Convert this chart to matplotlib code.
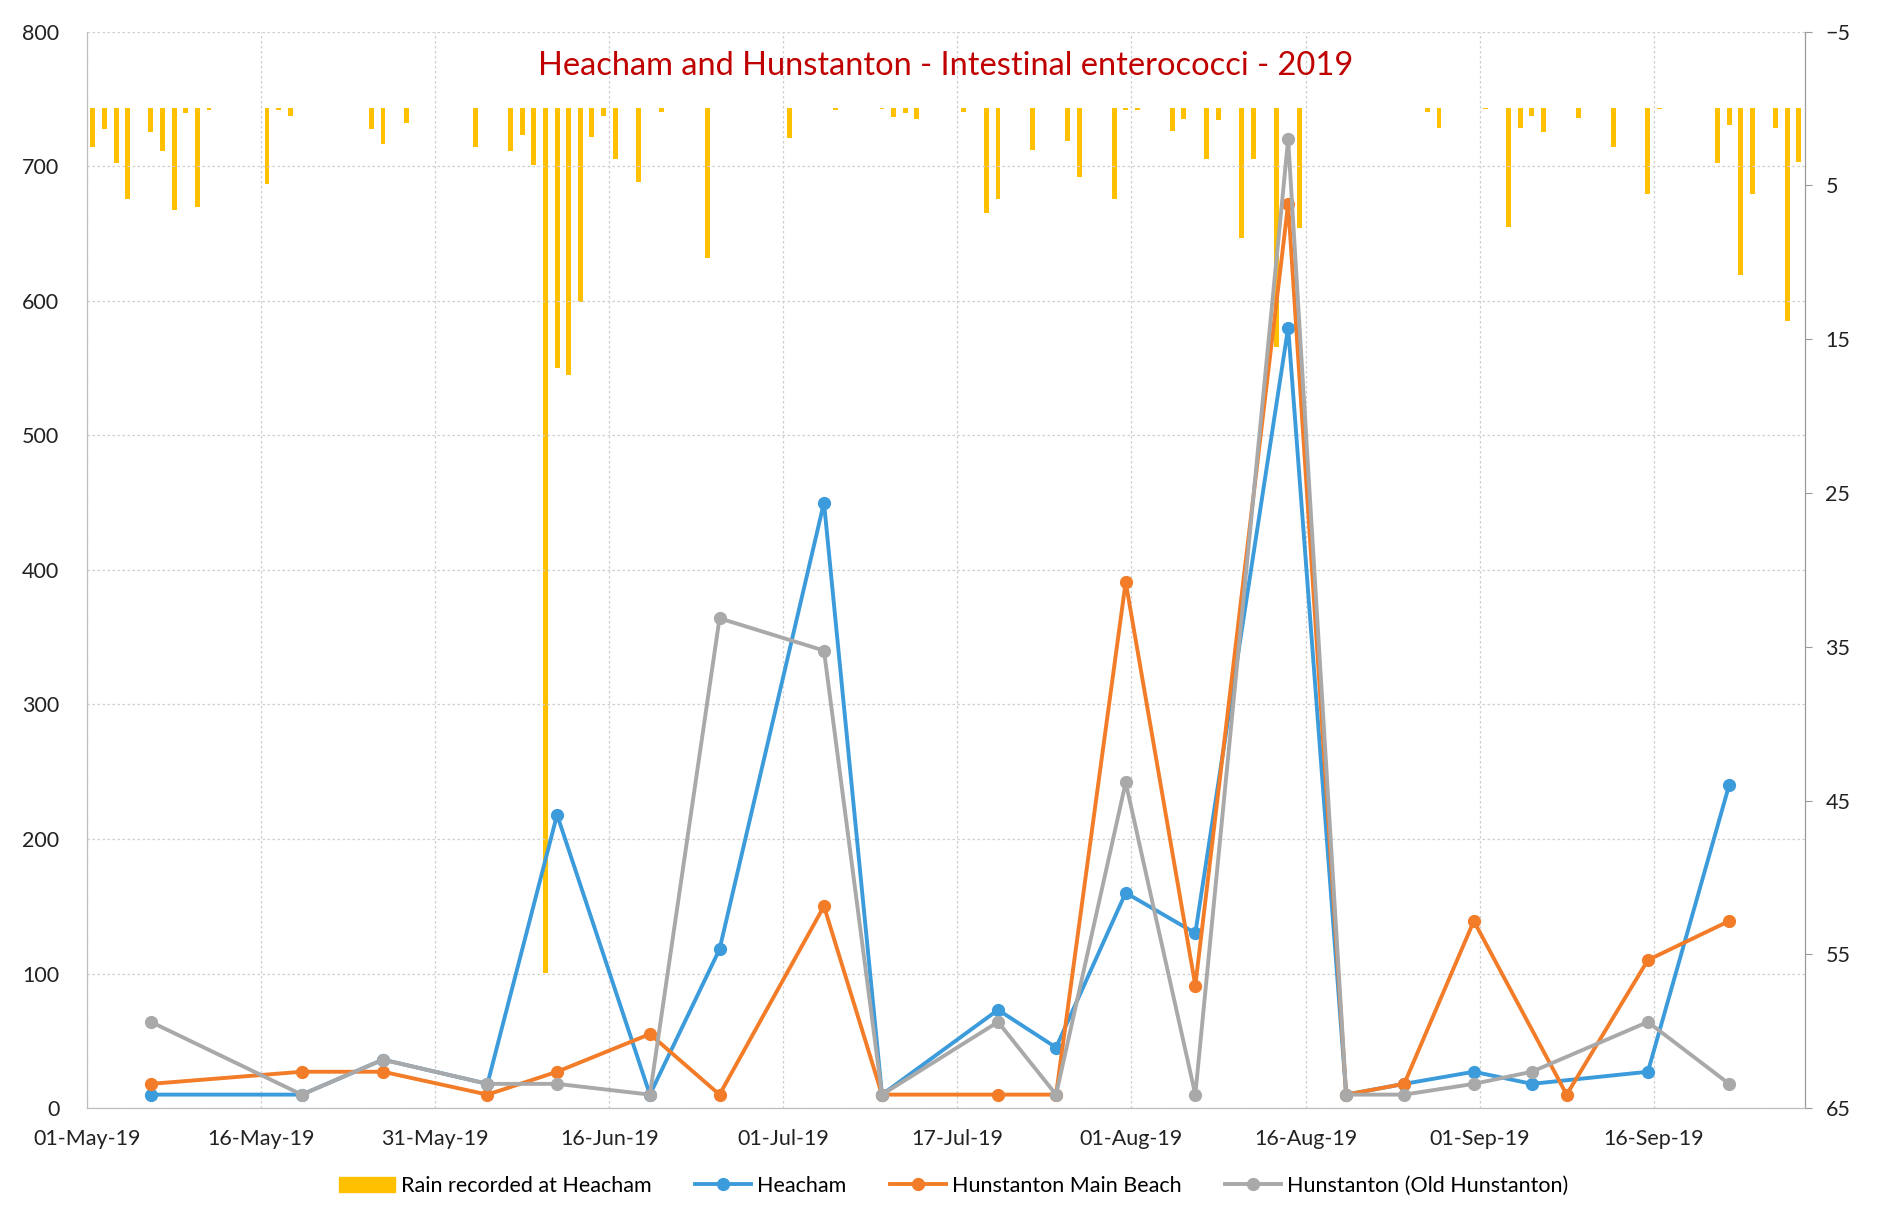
import numpy as np
import matplotlib
matplotlib.use('Agg')
import matplotlib.pyplot as plt
from matplotlib.patches import Patch
from matplotlib.lines import Line2D

plt.rcParams['font.family'] = ['Lato', 'DejaVu Sans']

# x positions are day offsets from 01-May-19
tick_days = [0, 15, 30, 45, 60, 75, 90, 105, 120, 135]
tick_labels = ['01-May-19', '16-May-19', '31-May-19', '16-Jun-19', '01-Jul-19',
               '17-Jul-19', '01-Aug-19', '16-Aug-19', '01-Sep-19', '16-Sep-19']

# daily rain (mm), right axis
rain_days = [0, 1, 2, 3, 5, 6, 7, 8, 9, 10, 15, 16, 17, 24, 25, 27, 33, 36, 37, 38,
             39, 40, 41, 42, 43, 44, 45, 47, 49, 53, 60, 64, 68, 69, 70, 71, 75, 77, 78, 81,
             84, 85, 88, 89, 90, 93, 94, 96, 97, 99, 100, 102, 104, 115, 116, 120, 122, 123, 124, 125,
             128, 131, 134, 135, 140, 141, 142, 143, 145, 146, 147]
rain_mm = [2.5, 1.35, 3.55, 5.9, 1.5, 2.75, 6.6, 0.3, 6.4, 0.1, 4.9, 0.1, 0.5, 1.35, 2.3, 0.95, 2.5, 2.75, 1.7, 3.7,
           56.2, 16.9, 17.3, 12.6, 1.85, 0.5, 3.3, 4.8, 0.25, 9.7, 1.9, 0.1, 0.05, 0.55, 0.3, 0.7, 0.25, 6.8, 5.9, 2.7,
           2.1, 4.45, 5.9, 0.07, 0.07, 1.45, 0.7, 3.3, 0.75, 8.45, 3.3, 15.5, 7.75, 0.2, 1.25, 0.05, 7.7, 1.3, 0.5, 1.55,
           0.6, 2.5, 5.55, 0.05, 3.55, 1.05, 10.8, 5.55, 1.3, 13.8, 3.5]

# intestinal enterococci counts, left axis
heacham_days = [5, 18, 25, 34, 40, 48, 54, 63, 68, 78, 83, 89, 95, 103, 108, 113, 119, 124, 134, 141]
heacham = [10, 10, 36, 18, 218, 10, 118, 450, 10, 73, 45, 160, 130, 580, 10, 18, 27, 18, 27, 240]

main_beach_days = [5, 18, 25, 34, 40, 48, 54, 63, 68, 78, 83, 89, 95, 103, 108, 113, 119, 127, 134, 141]
main_beach = [18, 27, 27, 10, 27, 55, 10, 150, 10, 10, 10, 391, 91, 672, 10, 18, 139, 10, 110, 139]

old_hun_days = [5, 18, 25, 34, 40, 48, 54, 63, 68, 78, 83, 89, 95, 103, 108, 113, 119, 124, 134, 141]
old_hun = [64, 10, 36, 18, 18, 10, 364, 340, 10, 64, 10, 242, 10, 720, 10, 10, 18, 27, 64, 18]

GOLD = '#FFC000'
BLUE = '#3B9BDB'
ORANGE = '#F27C28'
GREY = '#A9A9A9'
LW = 2.8
MS = 8.5

fig = plt.figure(figsize=(18.77, 12.15), dpi=100)
ax = fig.add_axes([0.0464, 0.088, 0.915, 0.886])
ax2 = ax.twinx()

# rain bars hang from the top on the inverted secondary axis
ax2.bar(np.array(rain_days) + 0.5, rain_mm, width=0.42, color=GOLD, zorder=2)
ax2.set_ylim(65, -5)
ax2.set_yticks(np.arange(-5, 66, 10))

ax.set_zorder(ax2.get_zorder() + 1)
ax.patch.set_visible(False)

for days, vals, col in [(heacham_days, heacham, BLUE),
                        (main_beach_days, main_beach, ORANGE),
                        (old_hun_days, old_hun, GREY)]:
    ax.plot(np.array(days) + 0.5, vals, color=col, lw=LW, marker='o', ms=MS,
            markeredgecolor=col, zorder=3)

ax.set_xlim(0, 148)
ax.set_ylim(0, 800)
ax.set_yticks(np.arange(0, 801, 100))
ax.set_xticks(tick_days)
ax.set_xticklabels(tick_labels)

ax.grid(True, color='#cfcfcf', linestyle=(0, (2, 2)), lw=0.9)
ax.tick_params(axis='both', length=0, labelsize=15.5, colors='#222222')
ax.tick_params(axis='y', pad=20)
ax.tick_params(axis='x', pad=15)
ax2.tick_params(axis='y', length=5, width=0.8, color='#999999', labelsize=15.5,
                labelcolor='#222222', pad=10)

for a in (ax, ax2):
    a.spines['top'].set_visible(False)
    a.spines['left'].set_color('#bdbdbd')
    a.spines['bottom'].set_color('#bdbdbd')
    a.spines['right'].set_color('#9a9a9a')
    a.spines['left'].set_linewidth(0.8)
    a.spines['bottom'].set_linewidth(0.8)
    a.spines['right'].set_linewidth(0.8)

fig.text(0.504, 0.946, 'Heacham and Hunstanton - Intestinal enterococci - 2019',
         color='#C00000', fontsize=23.5, ha='center', va='center')

handles = [Patch(color=GOLD, label='Rain recorded at Heacham'),
           Line2D([], [], color=BLUE, lw=LW, marker='o', ms=MS, label='Heacham'),
           Line2D([], [], color=ORANGE, lw=LW, marker='o', ms=MS, label='Hunstanton Main Beach'),
           Line2D([], [], color=GREY, lw=LW, marker='o', ms=MS, label='Hunstanton (Old Hunstanton)')]
fig.legend(handles=handles, loc='lower center', bbox_to_anchor=(0.508, 0.0), ncol=4,
           frameon=False, fontsize=15.5, handlelength=2.6, columnspacing=2.0,
           handletextpad=0.3)

fig.savefig('out.png', dpi=100)
